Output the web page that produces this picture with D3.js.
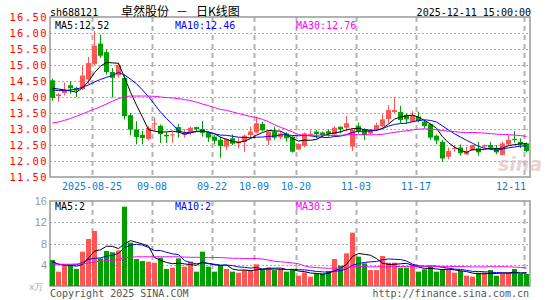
<!DOCTYPE html>
<html>
<head>
<meta charset="utf-8">
<script src="https://cdn.jsdelivr.net/npm/d3@7/dist/d3.min.js"></script>
<style>
  body { margin: 0; background: #fff; }
  text { font-family: "DejaVu Sans Mono", monospace; }
</style>
</head>
<body>
<div id="chart"></div>
<script>

// trading days shown (Aug 14 .. Dec 11, 2025)
var dates = ["08-14","08-15","08-18","08-19","08-20","08-21","08-22","08-25","08-26","08-27",
  "08-28","08-29","09-01","09-02","09-03","09-04","09-05","09-08","09-09","09-10",
  "09-11","09-12","09-15","09-16","09-17","09-18","09-19","09-22","09-23","09-24",
  "09-25","09-26","09-29","09-30","10-09","10-10","10-13","10-14","10-15","10-16",
  "10-17","10-20","10-21","10-22","10-23","10-24","10-27","10-28","10-29","10-30",
  "10-31","11-03","11-04","11-05","11-06","11-07","11-10","11-11","11-12","11-13",
  "11-14","11-17","11-18","11-19","11-20","11-21","11-24","11-25","11-26","11-27",
  "11-28","12-01","12-02","12-03","12-04","12-05","12-08","12-09","12-10","12-11"];

var openPx = [14.52,14.03,14.12,14.37,14.28,14.25,14.55,15.03,15.67,15.40,
  14.78,14.68,14.60,13.43,12.98,12.82,12.69,13.14,13.10,12.82,
  12.80,13.06,12.82,12.89,13.06,13.00,12.89,12.76,12.66,12.45,
  12.71,12.55,12.60,12.81,12.89,13.16,12.64,12.92,12.74,12.86,
  12.76,12.36,12.47,12.83,12.92,12.89,12.93,12.83,13.07,13.04,
  12.45,13.09,12.99,12.86,13.00,13.09,13.31,13.53,13.53,13.44,
  13.23,13.39,13.23,13.15,12.79,12.60,12.13,12.39,12.42,12.21,
  12.34,12.40,12.45,12.50,12.40,12.19,12.52,12.69,12.60,12.55];

var highPx = [14.58,14.12,14.45,14.49,14.32,14.97,15.25,16.07,15.95,15.50,
  14.90,15.05,14.70,13.50,13.24,12.95,13.10,13.36,13.14,12.90,
  12.90,13.16,13.00,13.07,13.07,13.25,12.92,12.81,12.76,12.70,
  12.83,12.71,12.83,13.07,13.39,13.23,12.97,13.07,12.94,12.90,
  12.78,12.55,12.89,12.97,12.97,12.92,12.99,13.09,13.08,13.41,
  13.02,13.20,13.02,12.99,13.20,13.47,13.75,14.01,13.72,13.49,
  13.56,13.54,13.28,13.18,12.83,12.66,12.42,12.50,12.52,12.45,
  12.51,12.60,12.52,12.60,12.50,12.60,12.81,12.94,12.71,12.58];

var lowPx = [13.88,13.85,14.05,14.10,14.00,14.22,14.40,15.00,15.22,14.70,
  13.98,14.60,13.30,12.80,12.52,12.52,12.64,12.93,12.56,12.56,
  12.57,12.73,12.73,12.81,12.92,12.76,12.60,12.52,12.10,12.34,
  12.50,12.40,12.29,12.71,12.86,12.92,12.50,12.66,12.68,12.60,
  12.26,12.34,12.43,12.76,12.71,12.76,12.76,12.76,12.86,12.92,
  12.31,12.86,12.66,12.83,12.97,13.05,13.18,13.50,13.18,13.16,
  13.21,13.21,13.02,12.66,12.52,11.98,12.05,12.29,12.17,12.19,
  12.33,12.17,12.40,12.34,12.21,12.17,12.50,12.58,12.40,12.27];

var closePx = [13.97,14.08,14.22,14.27,14.20,14.67,15.06,15.60,15.29,14.78,
  14.60,15.00,13.40,12.98,12.75,12.72,13.03,13.18,12.84,12.77,
  12.83,12.90,12.86,13.04,13.00,12.88,12.73,12.63,12.47,12.68,
  12.54,12.60,12.79,12.92,13.18,12.96,12.92,12.73,12.86,12.71,
  12.29,12.53,12.86,12.85,12.84,12.81,12.85,13.04,13.00,13.18,
  12.97,12.92,12.81,12.95,13.12,13.30,13.59,13.59,13.28,13.30,
  13.42,13.25,13.09,12.73,12.64,12.08,12.31,12.41,12.24,12.31,
  12.50,12.27,12.50,12.42,12.27,12.55,12.66,12.66,12.52,12.31];

// volume, in 10k
var volume = [4.89,2.70,3.95,3.95,3.20,6.46,8.85,10.35,5.20,6.59,
  6.34,6.70,14.93,8.16,5.08,4.70,4.58,4.39,5.33,3.20,
  3.45,5.20,3.64,4.58,2.70,6.46,3.64,2.70,3.76,3.20,
  2.70,2.50,3.00,3.00,4.08,3.20,3.45,3.00,3.20,2.70,
  3.20,1.94,2.57,1.76,2.38,2.38,2.82,5.08,3.83,6.15,
  10.04,5.52,4.27,3.00,3.00,5.65,4.39,4.39,3.45,3.45,
  3.83,2.70,3.14,3.64,2.70,3.20,3.14,2.50,2.82,1.94,
  1.76,2.50,2.57,3.00,1.94,2.38,2.50,3.20,2.26,2.26];

// moving-average values before a full window exists
var ma5Lead = [14.27,14.25,14.22,14.19];
var ma10Lead = [14.22,14.20,14.20,14.22,14.25,14.30,14.38,14.47,14.55];
var ma30Lead = [13.19,13.22,13.27,13.33,13.40,13.47,13.55,13.62,13.70,13.78,
  13.87,13.95,14.01,14.03,14.03,14.03,14.03,14.02,14.00,13.98,
  13.97,13.95,13.92,13.89,13.84,13.78,13.73,13.67,13.61];
var volMa5Lead = [4.6,4.1,3.95,3.9];
var volMa10Lead = [4.5,4.1,3.95,3.95,4.0,4.4,5.0,5.2,5.3];
var volMa30Lead = [4.1,4.1,4.1,4.1,4.15,4.2,4.3,4.5,4.7,4.75,
  4.8,5.0,5.3,5.4,5.5,5.5,5.5,5.5,5.5,5.5,
  5.5,5.5,5.45,5.4,5.4,5.4,5.35,5.35,5.35];

var tickDates = ["08-25","09-08","09-22","10-09","10-20","11-03","11-17","12-11"];
var tickLabels = ["2025-08-25","09-08","09-22","10-09","10-20","11-03","11-17","12-11"];

var legendText = ["MA5:12.52","MA10:12.46","MA30:12.76"];
var volLegendText = ["MA5:2","MA10:2","MA30:3"];

var maColors = ["#000000", "#0000ff", "#ff00ff"];
var upColor = "#ff5555", downColor = "#00a000";


function movingAvg(values, n, lead){
  return values.map(function(v, i){
    if (i < n - 1) return lead[i];
    return d3.mean(values.slice(i - n + 1, i + 1));
  });
}

KChart = function(_parentElement){
  var vis = this;
  vis.parentElement = _parentElement;
  vis.data = dates.map(function(d, i){
    return { date: d, o: openPx[i], h: highPx[i], l: lowPx[i], c: closePx[i], v: volume[i] };
  });
  vis.initVis();
};

KChart.prototype.initVis = function(){
  var vis = this;

  vis.left = 50;
  vis.right = 530;
  vis.top = 17;
  vis.bottom = 177;
  vis.vTop = 201;
  vis.vBottom = 286;

  vis.svg = d3.select("#" + vis.parentElement).append("svg")
    .attr("width", 545)
    .attr("height", 300);

  vis.x = d3.scaleBand()
    .domain(dates)
    .range([vis.left, vis.right]);

  vis.y = d3.scaleLinear()
    .domain([11.5, 16.5])
    .range([vis.bottom, vis.top]);

  vis.yVol = d3.scaleLinear()
    .domain([0, 16])
    .range([vis.vBottom, vis.vTop]);

  vis.drawGrid();
  vis.drawCandles();
  vis.drawVolume();
  vis.drawText();
};

KChart.prototype.drawGrid = function(){
  var vis = this;

  // horizontal dotted lines
  vis.svg.selectAll(".hgrid").data(vis.y.ticks(10).filter(function(t){ return t > 11.5 && t < 16.5; }))
    .enter().append("line")
    .attr("x1", vis.left).attr("x2", vis.right)
    .attr("y1", function(d){ return Math.round(vis.y(d)) + 0.5; })
    .attr("y2", function(d){ return Math.round(vis.y(d)) + 0.5; })
    .attr("stroke", "#aaa")
    .attr("stroke-dasharray", "2,2");

  vis.svg.selectAll(".vgrid").data([4, 8, 12])
    .enter().append("line")
    .attr("x1", vis.left).attr("x2", vis.right)
    .attr("y1", function(d){ return Math.round(vis.yVol(d)) + 0.5; })
    .attr("y2", function(d){ return Math.round(vis.yVol(d)) + 0.5; })
    .attr("stroke", "#aaa")
    .attr("stroke-dasharray", "2,2");

  // vertical dashed lines on both panels
  [[vis.top, vis.bottom], [vis.vTop, vis.vBottom]].forEach(function(r){
    vis.svg.selectAll(null).data(tickDates)
      .enter().append("line")
      .attr("x1", function(d){ return vis.x(d) + 0.5; })
      .attr("x2", function(d){ return vis.x(d) + 0.5; })
      .attr("y1", r[0]).attr("y2", r[1])
      .attr("stroke", "#b4b4b4")
      .attr("stroke-width", 2)
      .attr("stroke-dasharray", "5,4");
  });

  // frames
  vis.svg.append("rect")
    .attr("x", vis.left).attr("y", vis.top)
    .attr("width", vis.right - vis.left).attr("height", vis.bottom - vis.top)
    .attr("fill", "none").attr("stroke", "#999").attr("stroke-width", 1.5);

  vis.svg.append("rect")
    .attr("x", vis.left).attr("y", vis.vTop)
    .attr("width", vis.right - vis.left).attr("height", vis.vBottom - vis.vTop)
    .attr("fill", "none").attr("stroke", "#999").attr("stroke-width", 1.5);
};

KChart.prototype.drawCandles = function(){
  var vis = this;
  var col = function(d){ return d.c >= d.o ? upColor : downColor; };

  vis.svg.selectAll(".wick").data(vis.data)
    .enter().append("line")
    .attr("class", "wick")
    .attr("x1", function(d){ return vis.x(d.date) + 2.5; })
    .attr("x2", function(d){ return vis.x(d.date) + 2.5; })
    .attr("y1", function(d){ return vis.y(d.h); })
    .attr("y2", function(d){ return vis.y(d.l); })
    .attr("stroke", col);

  vis.svg.selectAll(".body").data(vis.data)
    .enter().append("rect")
    .attr("class", "body")
    .attr("x", function(d){ return vis.x(d.date); })
    .attr("y", function(d){ return vis.y(Math.max(d.o, d.c)); })
    .attr("width", 5)
    .attr("height", function(d){ return Math.max(1, Math.abs(vis.y(d.o) - vis.y(d.c))); })
    .attr("fill", col);

  var line = d3.line()
    .x(function(d, i){ return vis.x(dates[i]) + 2.5; })
    .y(function(d){ return vis.y(d); });

  [[5, ma5Lead], [10, ma10Lead], [30, ma30Lead]].forEach(function(m, k){
    vis.svg.append("path")
      .datum(movingAvg(closePx, m[0], m[1]))
      .attr("d", line)
      .attr("fill", "none")
      .attr("stroke", maColors[k])
      .attr("stroke-width", 1);
  });
};

KChart.prototype.drawVolume = function(){
  var vis = this;

  vis.svg.selectAll(".vol").data(vis.data)
    .enter().append("rect")
    .attr("class", "vol")
    .attr("x", function(d){ return vis.x(d.date); })
    .attr("y", function(d){ return vis.yVol(d.v); })
    .attr("width", 5)
    .attr("height", function(d){ return vis.vBottom - vis.yVol(d.v); })
    .attr("fill", function(d){ return d.c >= d.o ? upColor : downColor; });

  var line = d3.line()
    .x(function(d, i){ return vis.x(dates[i]) + 2.5; })
    .y(function(d){ return vis.yVol(d); });

  [[5, volMa5Lead], [10, volMa10Lead], [30, volMa30Lead]].forEach(function(m, k){
    vis.svg.append("path")
      .datum(movingAvg(volume, m[0], m[1]))
      .attr("d", line)
      .attr("fill", "none")
      .attr("stroke", maColors[k])
      .attr("stroke-width", 1);
  });
};

KChart.prototype.drawText = function(){
  var vis = this;
  var fmt = d3.format(".2f");

  // price labels
  vis.svg.selectAll(".ylab").data(vis.y.ticks(10))
    .enter().append("text")
    .attr("x", 48)
    .attr("y", function(d){ return vis.y(d) + 4; })
    .attr("text-anchor", "end")
    .attr("font-size", "10.5px")
    .attr("letter-spacing", "1.4px")
    .attr("fill", "#ff0000")
    .text(fmt);

  // volume labels
  vis.svg.selectAll(".vlab").data([4, 8, 12, 16])
    .enter().append("text")
    .attr("x", 47)
    .attr("y", function(d){ return vis.yVol(d) + 4; })
    .attr("text-anchor", "end")
    .attr("font-size", "11px")
    .style("font-family", "Liberation Sans, sans-serif")
    .attr("fill", "#999")
    .text(function(d){ return d; });

  vis.svg.append("text")
    .attr("x", 29).attr("y", 290)
    .attr("font-size", "9px")
    .attr("fill", "#aaa")
    .text("x万");

  // date labels
  vis.svg.selectAll(".xlab").data(tickDates)
    .enter().append("text")
    .attr("x", function(d, i){ return i === tickDates.length - 1 ? vis.right - 4 : vis.x(d); })
    .attr("y", 190)
    .attr("text-anchor", function(d, i){ return i === tickDates.length - 1 ? "end" : "middle"; })
    .attr("font-size", "10px")
    .attr("fill", "#0a7ed0")
    .text(function(d, i){ return tickLabels[i]; });

  // title row
  vis.svg.append("text")
    .attr("x", 50).attr("y", 15.5)
    .attr("font-size", "10px")
    .text("sh688121");

  var title = vis.svg.append("text")
    .attr("y", 16)
    .attr("font-size", "12px")
    .style("font-family", "Noto Sans CJK SC, sans-serif");
  title.append("tspan").attr("x", 121).text("卓然股份");
  title.append("tspan").attr("x", 176).text("－");
  title.append("tspan").attr("x", 196).text("日K线图");

  vis.svg.append("text")
    .attr("x", 531).attr("y", 15.5)
    .attr("text-anchor", "end")
    .attr("font-size", "10px")
    .text("2025-12-11 15:00:00");

  // legends
  var lx = [55, 175, 296];
  legendText.forEach(function(t, k){
    vis.svg.append("text")
      .attr("x", lx[k]).attr("y", 28.5)
      .attr("font-size", "10px")
      .attr("fill", maColors[k])
      .text(t);
  });
  volLegendText.forEach(function(t, k){
    vis.svg.append("text")
      .attr("x", lx[k]).attr("y", 210)
      .attr("font-size", "10px")
      .attr("fill", maColors[k])
      .text(t);
  });

  // watermark
  vis.svg.append("text")
    .attr("x", 498).attr("y", 171)
    .attr("font-size", "19px")
    .attr("font-style", "italic")
    .attr("font-weight", "bold")
    .style("font-family", "DejaVu Sans, sans-serif")
    .attr("fill", "#d9b8b8")
    .attr("opacity", 0.6)
    .text("sina");

  // footer
  vis.svg.append("text")
    .attr("x", 50).attr("y", 296.5)
    .attr("font-size", "10px")
    .attr("fill", "#555")
    .text("Copyright 2025 SINA.COM");

  vis.svg.append("text")
    .attr("x", 529).attr("y", 296.5)
    .attr("text-anchor", "end")
    .attr("font-size", "10px")
    .attr("fill", "#555")
    .text("http://finance.sina.com.cn");
};

var chart = new KChart("chart");

</script>
</body>
</html>
